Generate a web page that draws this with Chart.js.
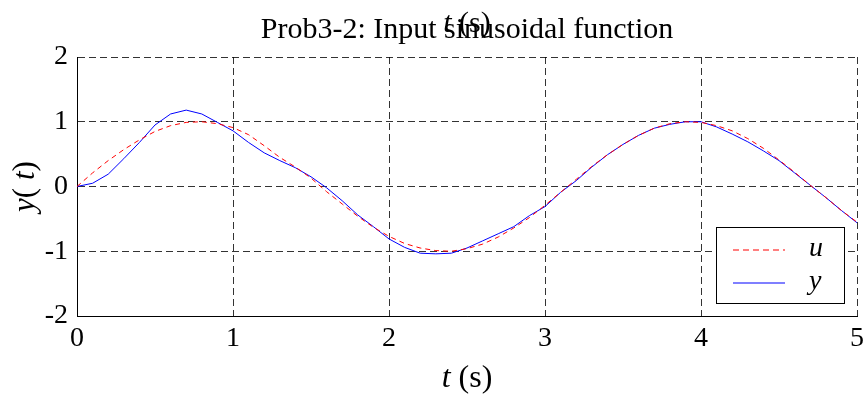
<!DOCTYPE html>
<html>
<head>
<meta charset="utf-8">
<script src="https://cdn.jsdelivr.net/npm/chart.js@4/dist/chart.umd.min.js"></script>
<style>
  body { margin: 0; background: #fff; }
  #chart { display: block; }
</style>
</head>
<body>
<canvas id="chart" width="865" height="395"></canvas>
<script>
// time axis (s)
var tValues = [0.0, 0.1, 0.2, 0.3, 0.4, 0.5, 0.6, 0.7, 0.8, 0.9,
               1.0, 1.1, 1.2, 1.3, 1.4, 1.5, 1.6, 1.7, 1.8, 1.9,
               2.0, 2.1, 2.2, 2.3, 2.4, 2.5, 2.6, 2.7, 2.8, 2.9,
               3.0, 3.1, 3.2, 3.3, 3.4, 3.5, 3.6, 3.7, 3.8, 3.9,
               4.0, 4.1, 4.2, 4.3, 4.4, 4.5, 4.6, 4.7, 4.8, 4.9, 5.0];

// input u (red dashed)
var uValues = [0.00, 0.21, 0.40, 0.57, 0.72, 0.85, 0.94, 0.99, 1.00, 0.97,
               0.91, 0.80, 0.63, 0.45, 0.30, 0.13, -0.08, -0.27, -0.46, -0.63,
               -0.77, -0.88, -0.95, -0.99, -1.00, -0.96, -0.89, -0.78, -0.64, -0.48,
               -0.29, -0.09, 0.11, 0.31, 0.49, 0.65, 0.79, 0.90, 0.97, 1.00,
               0.99, 0.94, 0.86, 0.74, 0.59, 0.41, 0.22, 0.02, -0.17, -0.37, -0.55];

// output y (blue solid)
var yValues = [0.00, 0.05, 0.19, 0.43, 0.68, 0.95, 1.12, 1.18, 1.12, 0.99,
               0.86, 0.68, 0.52, 0.40, 0.29, 0.15, -0.02, -0.22, -0.44, -0.62,
               -0.81, -0.94, -1.03, -1.04, -1.03, -0.95, -0.84, -0.73, -0.62, -0.45,
               -0.31, -0.09, 0.09, 0.30, 0.49, 0.65, 0.79, 0.90, 0.96, 1.00,
               1.00, 0.92, 0.81, 0.69, 0.55, 0.40, 0.21, 0.02, -0.17, -0.37, -0.56];

var xTicks = [0, 1, 2, 3, 4, 5];
var yTicks = [-2, -1, 0, 1, 2];

var titleText = 'Prob3-2: Input sinusoidal function';
var serif = '"Liberation Serif", "Times New Roman", serif';

function toPoints(ys) {
  return tValues.map(function(t, i) { return {x: t, y: ys[i]}; });
}

// draws a run of text pieces, some italic, centred on x
function drawParts(ctx, parts, x, y, size) {
  var total = 0;
  parts.forEach(function(p) {
    ctx.font = (p.italic ? 'italic ' : '') + size + 'px ' + serif;
    p.w = ctx.measureText(p.text).width;
    total += p.w;
  });
  var cx = x - total / 2;
  parts.forEach(function(p) {
    ctx.font = (p.italic ? 'italic ' : '') + size + 'px ' + serif;
    ctx.fillText(p.text, cx, y);
    cx += p.w;
  });
}

var textPlugin = {
  id: 'matlabText',
  afterDraw: function(chart) {
    var ctx = chart.ctx, area = chart.chartArea;
    var mid = (area.left + area.right) / 2;
    ctx.save();
    ctx.fillStyle = '#000';
    ctx.textAlign = 'left';
    ctx.textBaseline = 'alphabetic';

    // title
    ctx.font = '30px ' + serif;
    var tw = ctx.measureText(titleText).width;
    ctx.fillText(titleText, mid - tw / 2, 38);

    // stray copy of the x label over the title
    drawParts(ctx, [{text: 't', italic: true}, {text: ' (s)'}], mid, 32, 30);

    // x label
    drawParts(ctx, [{text: 't', italic: true}, {text: ' (s)'}], mid, 387, 32);

    // y label, rotated
    ctx.save();
    ctx.translate(34, (area.top + area.bottom) / 2);
    ctx.rotate(-Math.PI / 2);
    drawParts(ctx, [{text: 'y', italic: true}, {text: '( '}, {text: 't', italic: true}, {text: ')'}], 0, 0, 31);
    ctx.restore();

    // legend box
    var bx = 716, by = 227, bw = 128, bh = 76;
    ctx.fillStyle = '#fff';
    ctx.fillRect(bx, by, bw, bh);
    ctx.strokeStyle = '#000';
    ctx.lineWidth = 1;
    ctx.strokeRect(bx + 0.5, by + 0.5, bw, bh);
    var names = ['u', 'y'];
    chart.data.datasets.forEach(function(ds, i) {
      var ly = by + 23 + i * 33;
      ctx.beginPath();
      ctx.setLineDash(ds.borderDash ? [6, 4] : []);
      ctx.strokeStyle = ds.borderColor;
      ctx.lineWidth = 1.2;
      ctx.moveTo(bx + 17, ly);
      ctx.lineTo(bx + 69, ly);
      ctx.stroke();
      ctx.setLineDash([]);
      ctx.fillStyle = '#000';
      ctx.textBaseline = 'middle';
      ctx.font = 'italic 28px ' + serif;
      ctx.fillText(names[i], bx + 93, ly - 1);
    });
    ctx.restore();
  }
};

var tickFont = {family: serif, size: 28};

new Chart(document.getElementById('chart'), {
  type: 'line',
  data: {
    datasets: [
      {
        label: 'u',
        data: toPoints(uValues),
        borderColor: '#ff0000',
        borderWidth: 1,
        borderDash: [5, 4],
        pointRadius: 0,
        fill: false
      },
      {
        label: 'y',
        data: toPoints(yValues),
        borderColor: '#0000ff',
        borderWidth: 1,
        pointRadius: 0,
        fill: false
      }
    ]
  },
  options: {
    responsive: false,
    animation: false,
    layout: {padding: {top: 57, right: 8, left: 0, bottom: 0}},
    plugins: {
      legend: {display: false},
      tooltip: {enabled: false},
      title: {display: false}
    },
    elements: {line: {tension: 0}},
    scales: {
      x: {
        type: 'linear',
        min: 0,
        max: 5,
        afterBuildTicks: function(s) {
          s.ticks = xTicks.map(function(v) { return {value: v}; });
        },
        afterFit: function(s) {
          s.height = 79;
          s.paddingLeft = 0;
          s.paddingRight = 0;
        },
        ticks: {font: tickFont, color: '#000', padding: 6, maxRotation: 0, autoSkip: false},
        grid: {color: 'rgba(0,0,0,0.8)', lineWidth: 1, drawTicks: false},
        border: {display: true, color: '#000', width: 1, dash: [7, 4]}
      },
      y: {
        min: -2,
        max: 2,
        afterBuildTicks: function(s) {
          s.ticks = yTicks.map(function(v) { return {value: v}; });
        },
        afterFit: function(s) {
          s.width = 77;
          s.paddingTop = 0;
          s.paddingBottom = 0;
        },
        ticks: {font: tickFont, color: '#000', padding: 9, autoSkip: false},
        grid: {color: 'rgba(0,0,0,0.8)', lineWidth: 1, drawTicks: false},
        border: {display: true, color: '#000', width: 1, dash: [7, 4]}
      }
    }
  },
  plugins: [textPlugin]
});
</script>
</body>
</html>
